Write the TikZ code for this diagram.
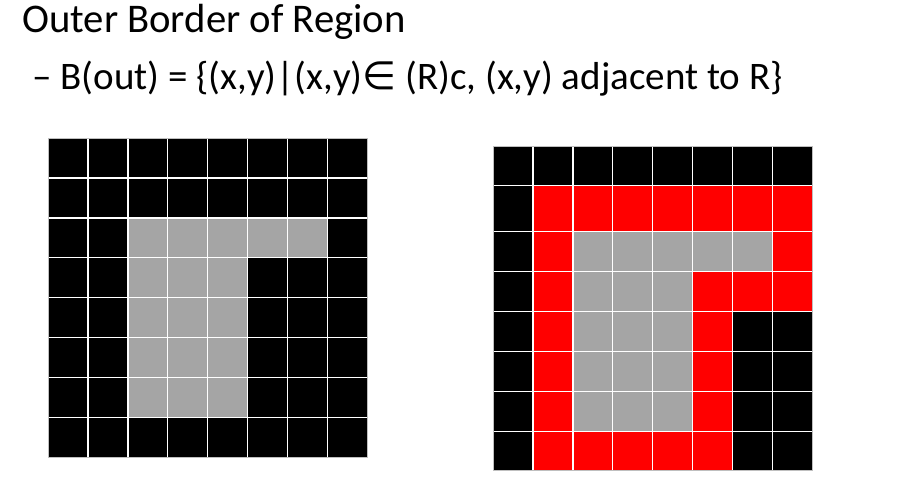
\documentclass[tikz,border=0pt]{standalone}
\usepackage{fontspec}
\setmainfont{Carlito}
\newfontfamily\symfont{DejaVu Sans}

\definecolor{pxK}{HTML}{000000}
\definecolor{pxG}{HTML}{A5A5A5}
\definecolor{pxR}{HTML}{FF0000}
\definecolor{edgegray}{HTML}{BFBFBF}

\tikzset{
  cellbox/.style={draw=white, line width=1.4pt},
  gridedge/.style={draw=edgegray, line width=0.8pt},
  heading/.style={anchor=base west, inner sep=0pt, font=\fontsize{40.7}{46}\selectfont},
  subline/.style={anchor=base west, inner sep=0pt, font=\fontsize{39}{44}\selectfont}
}

% one row of pixels: x0, y top, row height, colours
\newcommand{\cellrow}[4]{%
  \foreach \c [count=\i from 0] in {#4}
    \path[cellbox, fill=px\c] (#1+\i*\cellw, #2) rectangle +(\cellw, #3);%
}

\begin{document}
\begin{tikzpicture}[x=1pt, y=-1pt]
\def\cellw{39.9}
\useasboundingbox (0,0) rectangle (903,488);

% Title and definition
\node[heading] (title) at (22, 32) {Outer Border of Region};
\node[subline] (defn) at (32, 89) {– B(out) = \{(x,y)|(x,y){\symfont ∈} (R)c, (x,y) adjacent to R\}};

% Left grid: the region R
\cellrow{48}{138}{39.9}{K,K,K,K,K,K,K,K}
\cellrow{48}{177.9}{39.9}{K,K,K,K,K,K,K,K}
\cellrow{48}{217.8}{39.9}{K,K,G,G,G,G,G,K}
\cellrow{48}{257.7}{39.9}{K,K,G,G,G,K,K,K}
\cellrow{48}{297.6}{39.9}{K,K,G,G,G,K,K,K}
\cellrow{48}{337.5}{39.9}{K,K,G,G,G,K,K,K}
\cellrow{48}{377.4}{39.9}{K,K,G,G,G,K,K,K}
\cellrow{48}{417.3}{39.9}{K,K,K,K,K,K,K,K}
\draw[gridedge] (48,138) rectangle (367.2,457.2);

% Right grid: outer border B(out) in red
\cellrow{493}{146}{39.7}{K,K,K,K,K,K,K,K}
\cellrow{493}{185.7}{46}{K,R,R,R,R,R,R,R}
\cellrow{493}{231.7}{40}{K,R,G,G,G,G,G,R}
\cellrow{493}{271.7}{40}{K,R,G,G,G,R,R,R}
\cellrow{493}{311.7}{40}{K,R,G,G,G,R,K,K}
\cellrow{493}{351.7}{40}{K,R,G,G,G,R,K,K}
\cellrow{493}{391.7}{40}{K,R,G,G,G,R,K,K}
\cellrow{493}{431.7}{39}{K,R,R,R,R,R,K,K}
\draw[gridedge] (493,146) rectangle (812.2,470.7);
\end{tikzpicture}
\end{document}
